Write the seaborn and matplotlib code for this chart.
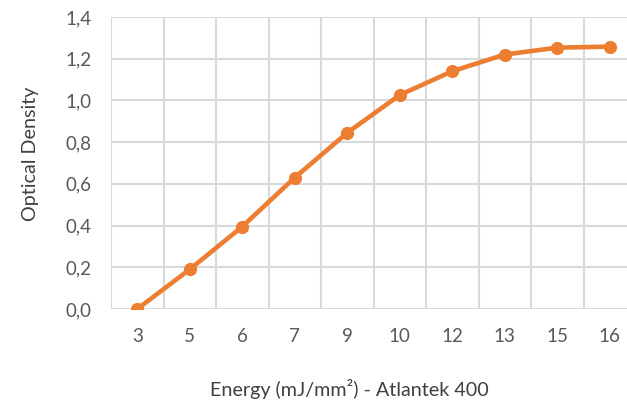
import matplotlib
matplotlib.use("Agg")
import matplotlib.pyplot as plt
import seaborn as sns
import pandas as pd

energy = ["3", "5", "6", "7", "9", "10", "12", "13", "15", "16"]
density = [0.0, 0.19, 0.395, 0.63, 0.845, 1.026, 1.14, 1.22, 1.253, 1.258]
y_ticks = [0.0, 0.2, 0.4, 0.6, 0.8, 1.0, 1.2, 1.4]

sns.set_theme(style="white")
plt.rcParams['font.family'] = ['Lato', 'DejaVu Sans']

df = pd.DataFrame({"energy": energy, "density": density})

fig = plt.figure(figsize=(6.27, 4.03), dpi=100)
W, H = 627, 403
left, right, top, bottom = 111, 636, 17, 309
ax = fig.add_axes([left / W, 1 - bottom / H, (right - left) / W, (bottom - top) / H])

sns.lineplot(data=df, x="energy", y="density", ax=ax, color="#ED7D31",
             linewidth=3.3, marker="o", markersize=9.5, markeredgewidth=0,
             sort=False, zorder=3)

ax.set_xlim(-0.5, len(energy) - 0.5)
ax.set_ylim(0, 1.4)
ax.set_yticks(y_ticks)
ax.set_yticklabels([f"{v:.1f}".replace(".", ",") for v in y_ticks])
ax.set_xticks(range(len(energy)))
ax.set_xticklabels(energy)

# grid: horizontal at ticks, vertical at category boundaries
for v in y_ticks:
    ax.axhline(v, color="#D9D9D9", linewidth=1.5, zorder=1)
for i in range(len(energy) + 1):
    ax.axvline(i - 0.5, color="#D9D9D9", linewidth=1.5, zorder=1)

for s in ax.spines.values():
    s.set_visible(False)

ax.tick_params(axis="both", length=0, colors="#595959", labelsize=13.5)
ax.tick_params(axis="x", pad=14)
ax.tick_params(axis="y", pad=14)

ax.set_xlabel("Energy (mJ/mm²) - Atlantek 400", color="#404040", fontsize=14.2)
ax.set_ylabel("Optical Density", color="#404040", fontsize=14.2)
ax.xaxis.set_label_coords((349 - left) / (right - left), -(379 - bottom) / (bottom - top))
ax.yaxis.set_label_coords(-(111 - 39) / (right - left), (bottom - 154) / (bottom - top))

fig.savefig("out.png", dpi=100)
